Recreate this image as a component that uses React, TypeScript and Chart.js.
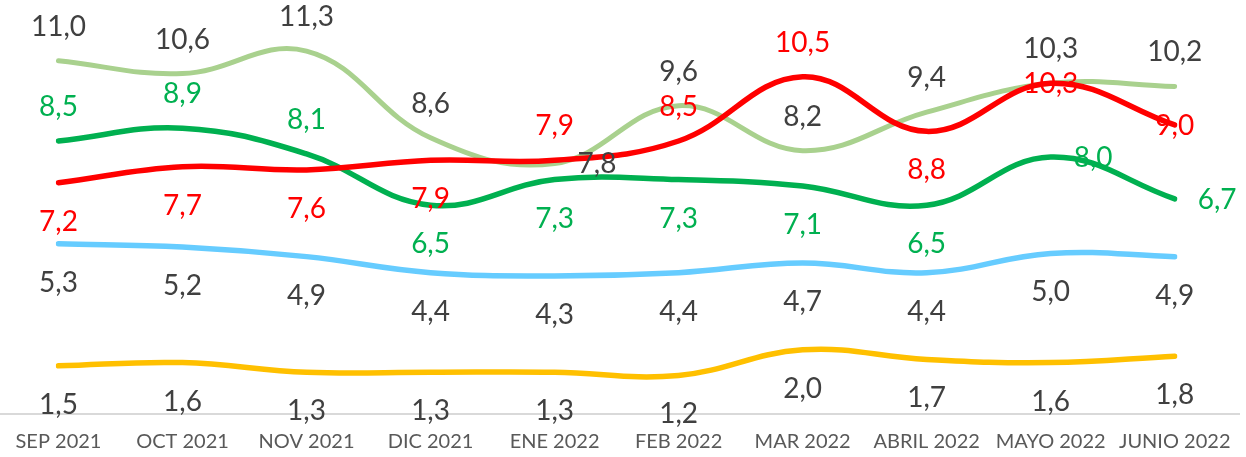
import React, { useEffect, useRef } from "react";
import { Chart, registerables } from "chart.js";

Chart.register(...registerables);

const categories = [
  "SEP 2021",
  "OCT 2021",
  "NOV 2021",
  "DIC 2021",
  "ENE 2022",
  "FEB 2022",
  "MAR 2022",
  "ABRIL 2022",
  "MAYO 2022",
  "JUNIO 2022",
];

const seriesLightGreen = [11.0, 10.6, 11.3, 8.6, 7.8, 9.6, 8.2, 9.4, 10.3, 10.2];
const seriesDarkGreen = [8.5, 8.9, 8.1, 6.5, 7.3, 7.3, 7.1, 6.5, 8.0, 6.7];
const seriesRed = [7.2, 7.7, 7.6, 7.9, 7.9, 8.5, 10.5, 8.8, 10.3, 9.0];
const seriesBlue = [5.3, 5.2, 4.9, 4.4, 4.3, 4.4, 4.7, 4.4, 5.0, 4.9];
const seriesYellow = [1.5, 1.6, 1.3, 1.3, 1.3, 1.2, 2.0, 1.7, 1.6, 1.8];

const yMin = 0;
const yMax = 12;

// label placement per point (layout only)
const placeLightGreen = ["above", "above", "above", "above", "right", "above", "above", "above", "above", "above"];
const placeDarkGreen = ["above", "above", "above", "below", "below", "below", "below", "below", "right", "right"];
const placeRed = ["below", "below", "below", "below", "above", "above", "above", "below", "center", "center"];
const placeBlue = ["below", "below", "below", "below", "below", "below", "below", "below", "below", "below"];
const placeYellow = ["below", "below", "below", "below", "below", "below", "below", "below", "below", "below"];

const FONT = "Lato, 'Open Sans', sans-serif";

const baselinePlugin = {
  id: "baseline",
  beforeDatasetsDraw(chart: any) {
    const ctx = chart.ctx;
    const y = chart.scales.y.getPixelForValue(0);
    ctx.save();
    ctx.strokeStyle = "#D9D9D9";
    ctx.lineWidth = 2;
    ctx.beginPath();
    ctx.moveTo(0, y);
    ctx.lineTo(1240, y);
    ctx.stroke();
    ctx.restore();
  },
};

const labelPlugin = {
  id: "pointLabels",
  afterDatasetsDraw(chart: any) {
    const ctx = chart.ctx;
    ctx.save();
    ctx.font = `28px ${FONT}`;
    ctx.textBaseline = "alphabetic";
    chart.data.datasets.forEach((ds: any, i: number) => {
      const meta = chart.getDatasetMeta(i);
      meta.data.forEach((pt: any, j: number) => {
        const v = ds.data[j] as number;
        const text = v.toFixed(1).replace(".", ",");
        let x = pt.x;
        let y = pt.y + 10;
        let align: CanvasTextAlign = "center";
        const p = ds.labelPlacement[j];
        if (p === "above") y -= 35;
        else if (p === "below") y += 38;
        else if (p === "right") {
          x += 23;
          align = "left";
        }
        ctx.textAlign = align;
        ctx.fillStyle = ds.labelColor;
        ctx.fillText(text, x, y);
      });
    });
    ctx.restore();
  },
};

export default function App() {
  const ref = useRef<HTMLCanvasElement | null>(null);

  useEffect(() => {
    if (!ref.current) return;
    const common = {
      fill: false,
      pointRadius: 0,
      tension: 0.4,
      borderCapStyle: "round" as const,
      borderJoinStyle: "round" as const,
    };
    const chart = new Chart(ref.current, {
      type: "line",
      data: {
        labels: categories,
        datasets: [
          {
            ...common,
            label: "Serie 1",
            data: seriesLightGreen,
            borderColor: "#A9D18E",
            borderWidth: 5,
            order: 3,
            labelPlacement: placeLightGreen,
            labelColor: "#404040",
          } as any,
          {
            ...common,
            label: "Serie 2",
            data: seriesDarkGreen,
            borderColor: "#00B050",
            borderWidth: 5.5,
            order: 2,
            labelPlacement: placeDarkGreen,
            labelColor: "#00B050",
          } as any,
          {
            ...common,
            label: "Serie 3",
            data: seriesRed,
            borderColor: "#FF0000",
            borderWidth: 5.5,
            order: 1,
            labelPlacement: placeRed,
            labelColor: "#FF0000",
          } as any,
          {
            ...common,
            label: "Serie 4",
            data: seriesBlue,
            borderColor: "#66CCFF",
            borderWidth: 5.5,
            order: 4,
            labelPlacement: placeBlue,
            labelColor: "#404040",
          } as any,
          {
            ...common,
            label: "Serie 5",
            data: seriesYellow,
            borderColor: "#FFC000",
            borderWidth: 5.5,
            order: 5,
            labelPlacement: placeYellow,
            labelColor: "#404040",
          } as any,
        ],
      },
      options: {
        animation: false,
        responsive: false,
        devicePixelRatio: 1,
        events: [],
        layout: {
          padding: { left: 52, right: 65, top: 28.6, bottom: 1 },
        },
        plugins: {
          legend: { display: false },
          tooltip: { enabled: false },
        },
        scales: {
          x: {
            offset: false,
            grid: { display: false, drawTicks: false, tickLength: 0 },
            border: { display: false },
            ticks: {
              autoSkip: false,
              maxRotation: 0,
              minRotation: 0,
              padding: 15.5,
              color: "#595959",
              font: { family: FONT, size: 20 },
            },
          },
          y: {
            display: false,
            min: yMin,
            max: yMax,
          },
        },
      },
      plugins: [baselinePlugin, labelPlugin],
    });
    return () => chart.destroy();
  }, []);

  return (
    <div
      style={{
        position: "absolute",
        left: 0,
        top: 0,
        width: 1246,
        height: 457,
        overflow: "hidden",
      }}
    >
      <canvas ref={ref} width={1246} height={470} style={{ display: "block" }} />
    </div>
  );
}
